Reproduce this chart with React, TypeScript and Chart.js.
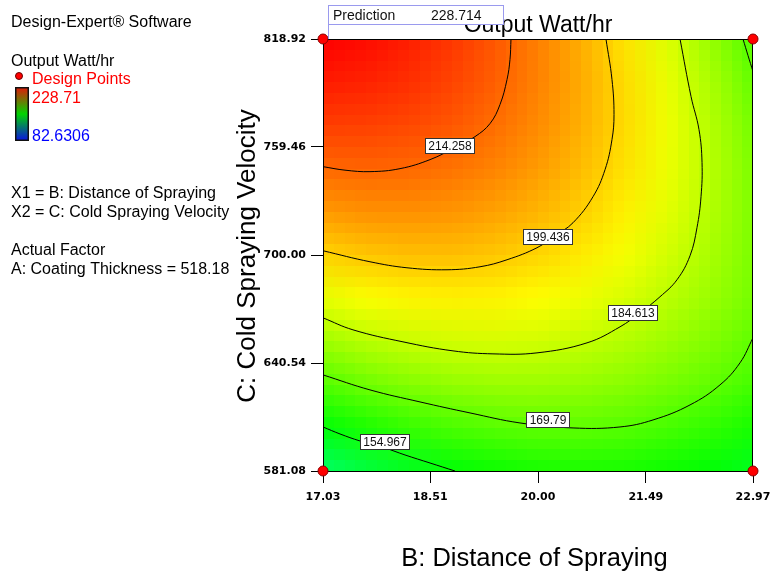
import React, { useEffect, useRef } from 'react';
import { Chart, registerables } from 'chart.js';

Chart.register(...registerables);

const FONT = '"Liberation Sans", Arial, sans-serif';
const TICK_FONT = '"DejaVu Sans", Verdana, sans-serif';

// Axis ticks
const distanceTicks = [17.03, 18.51, 20.0, 21.49, 22.97];
const velocityTicks = [581.08, 640.54, 700.0, 759.46, 818.92];

// Colour scale range (from legend)
const colorScaleMax = 228.71;
const colorScaleMin = 82.6306;

// Response grid (columns: B distance, rows: C velocity top -> bottom)
const gridDistance = [17.03, 17.624, 18.218, 18.812, 19.406, 20.0, 20.594, 21.188, 21.782, 22.376, 22.97];
const gridVelocity = [818.92, 795.136, 771.352, 747.568, 723.784, 700.0, 676.216, 652.432, 628.648, 604.864, 581.08];
const gridRow0 = [228.7, 227.1, 224.4, 220.8, 216.1, 210.4, 203.8, 196.1, 187.4, 177.7, 167.0];
const gridRow1 = [224.8, 223.9, 222.0, 219.0, 215.1, 210.1, 204.2, 197.2, 189.3, 180.3, 170.3];
const gridRow2 = [219.8, 219.6, 218.4, 216.2, 213.0, 208.8, 203.5, 197.3, 190.0, 181.8, 172.5];
const gridRow3 = [213.8, 214.3, 213.8, 212.3, 209.8, 206.3, 201.8, 196.3, 189.7, 182.2, 173.7];
const gridRow4 = [206.6, 207.9, 208.1, 207.3, 205.5, 202.8, 199.0, 194.2, 188.4, 181.5, 174.0];
const gridRow5 = [198.4, 200.4, 201.3, 201.3, 200.2, 198.1, 195.1, 191.0, 185.9, 180.0, 173.5];
const gridRow6 = [189.1, 191.8, 193.5, 194.1, 193.8, 192.4, 190.1, 186.7, 182.6, 177.8, 172.5];
const gridRow7 = [178.7, 182.1, 184.5, 185.9, 186.3, 185.7, 184.0, 181.6, 178.3, 174.5, 169.6];
const gridRow8 = [167.3, 171.4, 174.5, 176.6, 177.7, 177.8, 177.0, 175.3, 172.8, 169.5, 165.5];
const gridRow9 = [154.7, 159.6, 163.4, 166.2, 168.2, 169.3, 169.2, 168.0, 165.8, 162.8, 158.8];
const gridRow10 = [141.1, 146.7, 151.2, 154.8, 157.3, 158.8, 159.4, 158.9, 157.4, 154.9, 151.4];
const gridValues = [gridRow0, gridRow1, gridRow2, gridRow3, gridRow4, gridRow5, gridRow6, gridRow7, gridRow8, gridRow9, gridRow10];

// Contour lines [distance, velocity]
const contour214 = [[17.03, 748.64], [17.334, 746.71], [17.679, 745.89], [18.094, 747.54], [18.508, 752.5], [18.853, 759.12], [19.13, 765.18], [19.337, 772.35], [19.475, 782.82], [19.572, 796.6], [19.613, 807.62], [19.627, 818.92]];
const contour199 = [[17.03, 702.34], [17.679, 696.28], [18.19, 692.97], [18.743, 691.87], [19.199, 693.52], [19.572, 697.38], [19.986, 704.0], [20.235, 710.61], [20.484, 717.78], [20.76, 732.11], [20.926, 746.99], [21.022, 763.53], [21.05, 777.3], [21.022, 796.6], [20.939, 818.92]];
const contour184 = [[17.03, 665.41], [17.444, 658.8], [18.135, 652.18], [18.826, 647.22], [19.378, 645.57], [19.986, 646.12], [20.677, 651.63], [21.133, 660.45], [21.409, 668.17], [21.685, 676.99], [21.92, 686.36], [22.1, 699.59], [22.196, 715.02], [22.252, 732.11], [22.266, 750.85], [22.224, 769.04], [22.114, 787.23], [21.962, 818.92]];
const contour169 = [[17.03, 633.99], [17.679, 625.73], [18.37, 619.11], [19.061, 613.05], [19.751, 607.54], [20.484, 604.78], [21.133, 605.33], [21.589, 609.19], [22.1, 617.46], [22.514, 628.48], [22.79, 640.61], [22.97, 654.39]];
const contour169Corner = [[22.832, 818.92], [22.901, 809.82], [22.97, 801.01]];
const contour155 = [[17.03, 605.33], [17.265, 601.47], [17.541, 597.62], [17.886, 593.76], [18.163, 589.9], [18.508, 585.49], [18.853, 581.08]];

// Contour labels
const labelText = ['214.258', '199.436', '184.613', '169.79', '154.967'];
const labelDistance = [18.784, 20.138, 21.312, 20.138, 17.886];
const labelVelocity = [760.49, 710.06, 668.44, 609.19, 597.34];

// Design points
const designDistance = [17.03, 17.03, 22.97, 22.97];
const designVelocity = [581.08, 818.92, 581.08, 818.92];

const predictionValue = '228.714';

function valueToRgb(v: number): [number, number, number] {
  let t = (v - colorScaleMin) / (colorScaleMax - colorScaleMin);
  t = Math.max(0, Math.min(1, t));
  const h = 240 * (1 - t);
  const seg = h / 60;
  const i = Math.floor(seg) % 6;
  const f = seg - Math.floor(seg);
  const q = 1 - f;
  let r = 0, g = 0, b = 0;
  switch (i) {
    case 0: r = 1; g = f; b = 0; break;
    case 1: r = q; g = 1; b = 0; break;
    case 2: r = 0; g = 1; b = f; break;
    case 3: r = 0; g = q; b = 1; break;
    default: r = f; g = 0; b = 1; break;
  }
  return [Math.round(r * 255), Math.round(g * 255), Math.round(b * 255)];
}

const heatPlugin = {
  id: 'heat',
  beforeDatasetsDraw(chart: any) {
    const { ctx, chartArea: ca, scales } = chart;
    const xs = scales.x, ys = scales.y;
    const nC = gridDistance.length, nR = gridVelocity.length;
    const src = document.createElement('canvas');
    src.width = nC; src.height = nR;
    const sctx = src.getContext('2d')!;
    const img = sctx.createImageData(nC, nR);
    for (let r = 0; r < nR; r++) {
      for (let c = 0; c < nC; c++) {
        const [R, G, B] = valueToRgb(gridValues[r][c]);
        const k = (r * nC + c) * 4;
        img.data[k] = R; img.data[k + 1] = G; img.data[k + 2] = B; img.data[k + 3] = 255;
      }
    }
    sctx.putImageData(img, 0, 0);
    const BL = 40;
    const mid = document.createElement('canvas');
    mid.width = BL; mid.height = BL;
    const mctx = mid.getContext('2d')!;
    mctx.imageSmoothingEnabled = true;
    const cw = BL / (nC - 1), ch = BL / (nR - 1);
    mctx.drawImage(src, -cw / 2, -ch / 2, BL + cw, BL + ch);
    const px0 = xs.getPixelForValue(gridDistance[0]);
    const px1 = xs.getPixelForValue(gridDistance[nC - 1]);
    const py0 = ys.getPixelForValue(gridVelocity[0]);
    const py1 = ys.getPixelForValue(gridVelocity[nR - 1]);
    ctx.save();
    ctx.beginPath();
    ctx.rect(ca.left, ca.top, ca.right - ca.left, ca.bottom - ca.top);
    ctx.clip();
    ctx.imageSmoothingEnabled = false;
    ctx.drawImage(mid, px0, py0, px1 - px0, py1 - py0);
    ctx.restore();
    // frame
    ctx.save();
    ctx.strokeStyle = '#000';
    ctx.lineWidth = 1;
    ctx.strokeRect(ca.left + 0.5, ca.top + 0.5, ca.right - ca.left - 1, ca.bottom - ca.top);
    ctx.restore();
  },
  afterDatasetsDraw(chart: any) {
    const { ctx, scales } = chart;
    const xs = scales.x, ys = scales.y;
    ctx.save();
    ctx.font = `12px ${FONT}`;
    ctx.textAlign = 'center';
    ctx.textBaseline = 'middle';
    for (let i = 0; i < labelText.length; i++) {
      const px = xs.getPixelForValue(labelDistance[i]);
      const py = ys.getPixelForValue(labelVelocity[i]);
      const w = Math.round(ctx.measureText(labelText[i]).width + 6);
      const h = 15;
      const x0 = Math.round(px - w / 2) + 0.5;
      const y0 = Math.round(py - h / 2) + 0.5;
      ctx.fillStyle = '#fff';
      ctx.fillRect(x0, y0, w, h);
      ctx.strokeStyle = '#333';
      ctx.lineWidth = 1;
      ctx.strokeRect(x0, y0, w, h);
      ctx.fillStyle = '#111';
      ctx.fillText(labelText[i], x0 + w / 2, y0 + h / 2 + 0.5);
    }
    ctx.restore();
  },
  afterDraw(chart: any) {
    const { ctx, chartArea: ca } = chart;
    ctx.save();
    ctx.fillStyle = '#000';
    ctx.textBaseline = 'alphabetic';
    // title
    ctx.font = `23px ${FONT}`;
    ctx.textAlign = 'center';
    ctx.fillText('Output Watt/hr', (ca.left + ca.right) / 2, 32);
    // prediction flag
    ctx.fillStyle = '#fff';
    ctx.fillRect(328.5, 5.5, 175, 19);
    ctx.strokeStyle = '#9a9aee';
    ctx.lineWidth = 1;
    ctx.strokeRect(328.5, 5.5, 175, 19);
    ctx.beginPath();
    ctx.moveTo(328.5, 24.5);
    ctx.lineTo(328.5, ca.top);
    ctx.stroke();
    ctx.fillStyle = '#111';
    ctx.textAlign = 'left';
    ctx.font = `14px ${FONT}`;
    ctx.fillText('Prediction', 333, 20);
    ctx.fillText(predictionValue, 431, 20);
    // axis titles
    ctx.fillStyle = '#000';
    ctx.font = `25.5px ${FONT}`;
    ctx.textAlign = 'center';
    ctx.fillText('B: Distance of Spraying', 534.5, 566);
    ctx.save();
    ctx.translate(255, 256);
    ctx.rotate(-Math.PI / 2);
    ctx.font = `26px ${FONT}`;
    ctx.fillText('C: Cold Spraying Velocity', 0, 0);
    ctx.restore();
    // left panel
    ctx.textAlign = 'left';
    ctx.font = `16px ${FONT}`;
    ctx.fillStyle = '#000';
    ctx.fillText('Design-Expert\u00AE Software', 11, 27);
    ctx.fillText('Output Watt/hr', 11, 65.5);
    ctx.beginPath();
    ctx.arc(19, 76, 3.5, 0, Math.PI * 2);
    ctx.fillStyle = '#ff0000';
    ctx.fill();
    ctx.strokeStyle = '#600';
    ctx.stroke();
    ctx.fillStyle = '#ff0000';
    ctx.fillText('Design Points', 32, 84);
    ctx.fillText(String(colorScaleMax), 32, 103);
    ctx.fillStyle = '#0000ff';
    ctx.fillText(String(colorScaleMin), 32, 140.5);
    const grad = ctx.createLinearGradient(0, 88, 0, 140);
    grad.addColorStop(0, '#dc1e08');
    grad.addColorStop(0.5, '#00d400');
    grad.addColorStop(1, '#0a18dc');
    ctx.fillStyle = grad;
    ctx.fillRect(16, 88, 12, 52);
    ctx.strokeStyle = '#111';
    ctx.lineWidth = 1.5;
    ctx.strokeRect(15.75, 87.75, 12.5, 52.5);
    ctx.fillStyle = '#000';
    ctx.fillText('X1 = B: Distance of Spraying', 11, 198);
    ctx.fillText('X2 = C: Cold Spraying Velocity', 11, 217);
    ctx.fillText('Actual Factor', 11, 255);
    ctx.fillText('A: Coating Thickness = 518.18', 11, 274);
    ctx.restore();
  },
};

const toPts = (arr: number[][]) => arr.map(([x, y]) => ({ x, y }));

export default function App() {
  const ref = useRef<HTMLCanvasElement>(null);
  useEffect(() => {
    if (!ref.current) return;
    const contourStyle = {
      showLine: true,
      borderColor: '#000',
      borderWidth: 1,
      pointRadius: 0,
      pointHoverRadius: 0,
      tension: 0.4,
      fill: false,
    };
    const chart = new Chart(ref.current, {
      type: 'scatter',
      data: {
        datasets: [
          {
            label: 'Design Points',
            data: designDistance.map((x, i) => ({ x, y: designVelocity[i] })),
            pointRadius: 5,
            pointBackgroundColor: '#ff0000',
            pointBorderColor: '#8a0000',
            pointBorderWidth: 1,
            showLine: false,
            clip: false,
          } as any,
          { label: '214.258', data: toPts(contour214), ...contourStyle } as any,
          { label: '199.436', data: toPts(contour199), ...contourStyle } as any,
          { label: '184.613', data: toPts(contour184), ...contourStyle } as any,
          { label: '169.79', data: toPts(contour169), ...contourStyle } as any,
          { label: '169.79b', data: toPts(contour169Corner), ...contourStyle } as any,
          { label: '154.967', data: toPts(contour155), ...contourStyle } as any,
        ],
      },
      options: {
        animation: false,
        responsive: false,
        events: [],
        layout: { padding: { left: 100, right: 19, top: 39, bottom: 0 } },
        plugins: { legend: { display: false }, tooltip: { enabled: false }, title: { display: false } },
        scales: {
          x: {
            type: 'linear',
            min: distanceTicks[0],
            max: distanceTicks[distanceTicks.length - 1],
            afterBuildTicks: (s: any) => { s.ticks = distanceTicks.map((v) => ({ value: v })); },
            afterFit: (s: any) => { s.height = 108; s.paddingLeft = 0; s.paddingRight = 0; },
            ticks: {
              callback: (v: any) => Number(v).toFixed(2),
              font: { family: TICK_FONT, size: 11, weight: 'bold' },
              color: '#000',
              padding: 8,
              maxRotation: 0,
              autoSkip: false,
            },
            grid: { drawOnChartArea: false, drawTicks: true, tickLength: 12, color: '#000', tickColor: '#000' },
            border: { display: false },
          },
          y: {
            type: 'linear',
            min: velocityTicks[0],
            max: velocityTicks[velocityTicks.length - 1],
            afterBuildTicks: (s: any) => { s.ticks = velocityTicks.map((v) => ({ value: v })); },
            afterFit: (s: any) => { s.width = 223; s.paddingTop = 0; s.paddingBottom = 0; },
            ticks: {
              callback: (v: any) => Number(v).toFixed(2),
              font: { family: TICK_FONT, size: 11, weight: 'bold' },
              color: '#000',
              padding: 5,
              autoSkip: false,
            },
            grid: { drawOnChartArea: false, drawTicks: true, tickLength: 12, color: '#000', tickColor: '#000' },
            border: { display: false },
          },
        },
      } as any,
      plugins: [heatPlugin],
    });
    return () => chart.destroy();
  }, []);
  return (
    <div style={{ position: 'absolute', left: 0, top: 0, width: 772, height: 579, background: '#fff' }}>
      <canvas ref={ref} width={772} height={579} style={{ width: 772, height: 579, display: 'block' }} />
    </div>
  );
}
